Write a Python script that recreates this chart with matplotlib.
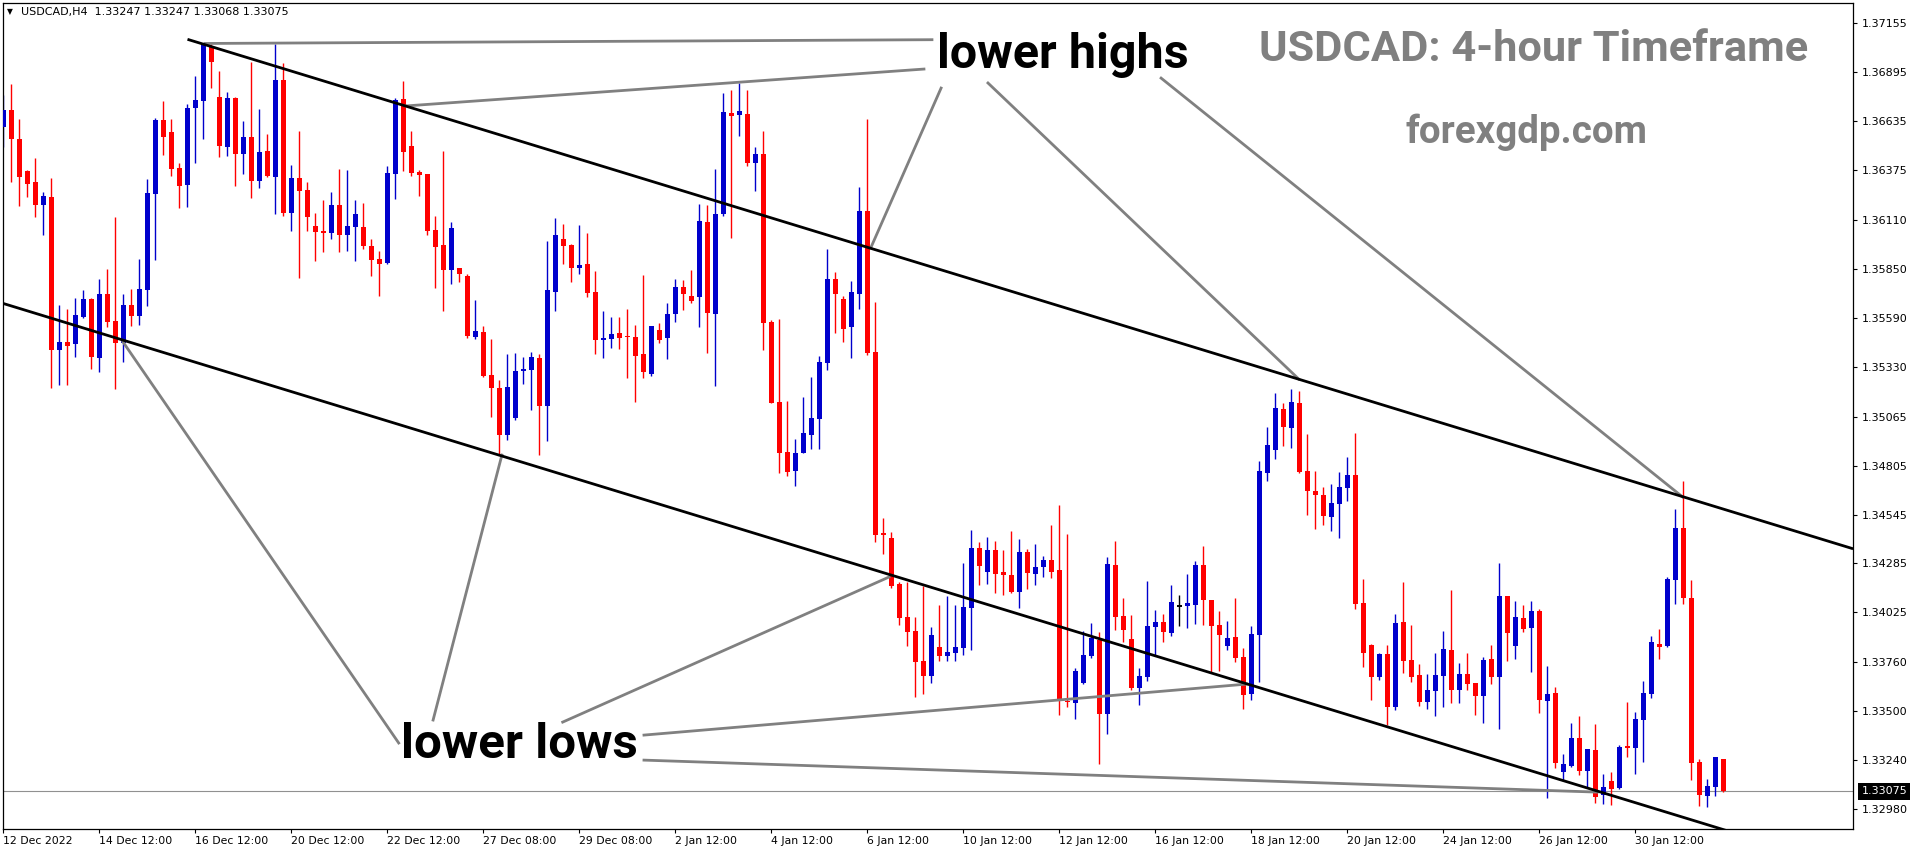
import matplotlib
matplotlib.use('Agg')
import matplotlib.pyplot as plt
import matplotlib.transforms as mtransforms

# USDCAD H4 candles, 12 Dec 2022 .. 31 Jan 2023
opens = [1.36606, 1.36695, 1.36540, 1.36370, 1.36310, 1.36191, 1.36232, 1.35421, 1.35462, 1.35453,
         1.35594, 1.35690, 1.35378, 1.35717, 1.35573, 1.35458, 1.35658, 1.35602, 1.35739, 1.36250,
         1.36641, 1.36578, 1.36386, 1.36298, 1.36705, 1.36744, 1.37035, 1.36762, 1.36499, 1.36760,
         1.36462, 1.36551, 1.36319, 1.36477, 1.36340, 1.36854, 1.36149, 1.36333, 1.36269, 1.36078,
         1.36051, 1.36042, 1.36190, 1.36032, 1.36074, 1.36073, 1.35972, 1.35903, 1.35883, 1.36354,
         1.36753, 1.36503, 1.36365, 1.36354, 1.36057, 1.35977, 1.35846, 1.35855, 1.35812, 1.35488,
         1.35515, 1.35286, 1.35217, 1.34967, 1.35060, 1.35311, 1.35314, 1.35377, 1.35123, 1.35729,
         1.36009, 1.35977, 1.35857, 1.35876, 1.35727, 1.35474, 1.35479, 1.35509, 1.35493, 1.35488,
         1.35398, 1.35292, 1.35526, 1.35484, 1.35612, 1.35754, 1.35706, 1.35702, 1.36099, 1.35612,
         1.36142, 1.36679, 1.36670, 1.36673, 1.36414, 1.36461, 1.35569, 1.35143, 1.34877, 1.34778,
         1.34873, 1.34969, 1.35054, 1.35352, 1.35796, 1.35690, 1.35543, 1.35718, 1.36158, 1.35409,
         1.34441, 1.34420, 1.34177, 1.34000, 1.33926, 1.33766, 1.33688, 1.33841, 1.33795, 1.33811,
         1.33837, 1.34049, 1.34367, 1.34241, 1.34356, 1.34240, 1.34224, 1.34135, 1.34346, 1.34231,
         1.34268, 1.34303, 1.34249, 1.33556, 1.33545, 1.33651, 1.33795, 1.33878, 1.33486, 1.34277,
         1.34006, 1.33884, 1.33625, 1.33683, 1.33949, 1.33974, 1.33916, 1.34059, 1.34061, 1.34066,
         1.34277, 1.34092, 1.33958, 1.33848, 1.33894, 1.33790, 1.33593, 1.33906, 1.34767, 1.34889,
         1.35106, 1.35006, 1.35138, 1.34776, 1.34670, 1.34649, 1.34533, 1.34602, 1.34687, 1.34755,
         1.34075, 1.33850, 1.33683, 1.33804, 1.33524, 1.33974, 1.33772, 1.33694, 1.33551, 1.33609,
         1.33688, 1.33825, 1.33614, 1.33699, 1.33650, 1.33582, 1.33779, 1.33683, 1.34112, 1.33848,
         1.33995, 1.33943, 1.34032, 1.33556, 1.33597, 1.33178, 1.33210, 1.33359, 1.33184, 1.33295,
         1.33056, 1.33129, 1.33093, 1.33316, 1.33306, 1.33455, 1.33593, 1.33858, 1.33848, 1.34199,
         1.34472, 1.34103, 1.33231, 1.33051, 1.33098, 1.33247]
highs = [1.36774, 1.36833, 1.36647, 1.36376, 1.36439, 1.36257, 1.36333, 1.35658, 1.35637, 1.35694,
         1.35738, 1.35697, 1.35796, 1.35851, 1.36126, 1.35717, 1.35743, 1.35904, 1.36328, 1.36652,
         1.36742, 1.36647, 1.36411, 1.36726, 1.36875, 1.37047, 1.37043, 1.36902, 1.36790, 1.36763,
         1.36636, 1.36949, 1.36700, 1.36567, 1.37043, 1.36944, 1.36402, 1.36583, 1.36312, 1.36149,
         1.36216, 1.36259, 1.36381, 1.36376, 1.36216, 1.36200, 1.36009, 1.35946, 1.36397, 1.36760,
         1.36849, 1.36583, 1.36376, 1.36354, 1.36133, 1.36477, 1.36099, 1.35855, 1.35823, 1.35685,
         1.35547, 1.35478, 1.35258, 1.35398, 1.35403, 1.35384, 1.35409, 1.35398, 1.35998, 1.36120,
         1.36089, 1.35982, 1.36083, 1.36041, 1.35839, 1.35628, 1.35596, 1.35596, 1.35639, 1.35552,
         1.35818, 1.35547, 1.35563, 1.35669, 1.35796, 1.35791, 1.35844, 1.36195, 1.36190, 1.36381,
         1.36785, 1.36801, 1.36836, 1.36801, 1.36498, 1.36583, 1.35578, 1.35585, 1.35148, 1.34946,
         1.35169, 1.35276, 1.35387, 1.35956, 1.35834, 1.35706, 1.35786, 1.36285, 1.36647, 1.35674,
         1.34526, 1.34452, 1.34186, 1.34186, 1.34000, 1.34165, 1.33947, 1.34064, 1.34112, 1.34064,
         1.34287, 1.34463, 1.34399, 1.34426, 1.34404, 1.34356, 1.34457, 1.34415, 1.34362, 1.34388,
         1.34324, 1.34489, 1.34595, 1.34441, 1.33731, 1.33926, 1.33968, 1.33921, 1.34319, 1.34404,
         1.34101, 1.34011, 1.33727, 1.34192, 1.34037, 1.34016, 1.34170, 1.34117, 1.34229, 1.34298,
         1.34378, 1.34092, 1.34034, 1.33981, 1.34101, 1.33837, 1.33952, 1.34829, 1.35010, 1.35191,
         1.35138, 1.35212, 1.35201, 1.34973, 1.34776, 1.34691, 1.34707, 1.34771, 1.34850, 1.34978,
         1.34203, 1.33857, 1.33809, 1.33852, 1.34016, 1.34186, 1.33958, 1.33751, 1.33699, 1.33809,
         1.33926, 1.34144, 1.33756, 1.33809, 1.33650, 1.33790, 1.33852, 1.34289, 1.34112, 1.34087,
         1.34064, 1.34085, 1.34043, 1.33740, 1.33628, 1.33274, 1.33439, 1.33476, 1.33300, 1.33434,
         1.33168, 1.33178, 1.33322, 1.33551, 1.33497, 1.33662, 1.33899, 1.33937, 1.34213, 1.34576,
         1.34723, 1.34197, 1.33248, 1.33141, 1.33258, 1.33247]
lows = [1.36499, 1.36313, 1.36186, 1.36234, 1.36127, 1.36032, 1.35219, 1.35235, 1.35235, 1.35384,
        1.35588, 1.35320, 1.35304, 1.35543, 1.35212, 1.35357, 1.35548, 1.35554, 1.35654, 1.35899,
        1.36455, 1.36346, 1.36175, 1.36181, 1.36413, 1.36542, 1.36813, 1.36446, 1.36452, 1.36292,
        1.36354, 1.36228, 1.36282, 1.36340, 1.36143, 1.36133, 1.36053, 1.35800, 1.36050, 1.35894,
        1.35941, 1.36009, 1.35941, 1.35947, 1.35894, 1.35956, 1.35814, 1.35708, 1.35878, 1.36223,
        1.36372, 1.36346, 1.36239, 1.36032, 1.35750, 1.35628, 1.35771, 1.35782, 1.35484, 1.35478,
        1.35277, 1.35065, 1.34861, 1.34939, 1.35049, 1.35240, 1.35102, 1.34861, 1.34935, 1.35628,
        1.35876, 1.35782, 1.35824, 1.35702, 1.35399, 1.35378, 1.35431, 1.35426, 1.35272, 1.35144,
        1.35272, 1.35283, 1.35458, 1.35373, 1.35569, 1.35634, 1.35671, 1.35543, 1.35405, 1.35229,
        1.36133, 1.36016, 1.36558, 1.36398, 1.36266, 1.35421, 1.35139, 1.34767, 1.34751, 1.34698,
        1.34873, 1.34895, 1.34895, 1.35314, 1.35511, 1.35463, 1.35378, 1.35639, 1.35394, 1.34399,
        1.34335, 1.34156, 1.33959, 1.33848, 1.33577, 1.33593, 1.33651, 1.33768, 1.33768, 1.33768,
        1.33800, 1.33826, 1.34172, 1.34177, 1.34129, 1.34119, 1.34129, 1.34049, 1.34151, 1.34172,
        1.34214, 1.34209, 1.33481, 1.33524, 1.33460, 1.33646, 1.33784, 1.33221, 1.33380, 1.33933,
        1.33869, 1.33614, 1.33534, 1.33662, 1.33795, 1.33869, 1.33901, 1.33952, 1.33944, 1.33965,
        1.33959, 1.33704, 1.33715, 1.33826, 1.33763, 1.33513, 1.33561, 1.33657, 1.34725, 1.34842,
        1.34911, 1.34900, 1.34767, 1.34544, 1.34469, 1.34491, 1.34458, 1.34422, 1.34618, 1.34041,
        1.33736, 1.33561, 1.33667, 1.33428, 1.33508, 1.33704, 1.33657, 1.33529, 1.33513, 1.33476,
        1.33524, 1.33545, 1.33545, 1.33614, 1.33481, 1.33439, 1.33646, 1.33407, 1.33768, 1.33779,
        1.33922, 1.33710, 1.33492, 1.33040, 1.33199, 1.33131, 1.33205, 1.33163, 1.33098, 1.33013,
        1.33008, 1.33003, 1.33088, 1.33258, 1.33168, 1.33231, 1.33572, 1.33779, 1.33842, 1.34071,
        1.34071, 1.33136, 1.32997, 1.32992, 1.33051, 1.33068]
closes = [1.36694, 1.36539, 1.36340, 1.36303, 1.36191, 1.36237, 1.35421, 1.35462, 1.35442, 1.35605,
          1.35690, 1.35384, 1.35717, 1.35569, 1.35458, 1.35658, 1.35602, 1.35743, 1.36253, 1.36641,
          1.36553, 1.36383, 1.36292, 1.36705, 1.36748, 1.37047, 1.36951, 1.36505, 1.36757, 1.36462,
          1.36551, 1.36319, 1.36471, 1.36346, 1.36854, 1.36149, 1.36333, 1.36266, 1.36127, 1.36046,
          1.36042, 1.36190, 1.36032, 1.36078, 1.36142, 1.35974, 1.35899, 1.35878, 1.36360, 1.36748,
          1.36473, 1.36361, 1.36351, 1.36053, 1.35969, 1.35846, 1.36067, 1.35824, 1.35493, 1.35520,
          1.35283, 1.35219, 1.34967, 1.35223, 1.35307, 1.35313, 1.35382, 1.35123, 1.35738, 1.36030,
          1.35972, 1.35857, 1.35871, 1.35724, 1.35474, 1.35484, 1.35504, 1.35484, 1.35486, 1.35389,
          1.35304, 1.35547, 1.35474, 1.35610, 1.35754, 1.35718, 1.35681, 1.36105, 1.35617, 1.36142,
          1.36684, 1.36664, 1.36689, 1.36414, 1.36461, 1.35564, 1.35139, 1.34873, 1.34772, 1.34872,
          1.34978, 1.35058, 1.35356, 1.35796, 1.35718, 1.35532, 1.35727, 1.36158, 1.35405, 1.34436,
          1.34439, 1.34167, 1.33996, 1.33922, 1.33763, 1.33688, 1.33905, 1.33795, 1.33814, 1.33841,
          1.34053, 1.34367, 1.34273, 1.34356, 1.34231, 1.34225, 1.34135, 1.34346, 1.34236, 1.34266,
          1.34303, 1.34241, 1.33566, 1.33551, 1.33715, 1.33799, 1.33889, 1.33486, 1.34282, 1.34002,
          1.33933, 1.33625, 1.33687, 1.33952, 1.33974, 1.33922, 1.34080, 1.34059, 1.34075, 1.34277,
          1.34092, 1.33954, 1.33905, 1.33891, 1.33784, 1.33587, 1.33911, 1.34776, 1.34914, 1.35111,
          1.35012, 1.35143, 1.34772, 1.34671, 1.34650, 1.34539, 1.34606, 1.34691, 1.34755, 1.34071,
          1.33811, 1.33683, 1.33804, 1.33524, 1.33968, 1.33768, 1.33683, 1.33551, 1.33612, 1.33694,
          1.33830, 1.33614, 1.33699, 1.33646, 1.33582, 1.33774, 1.33683, 1.34112, 1.33917, 1.34000,
          1.33938, 1.34032, 1.33561, 1.33591, 1.33226, 1.33221, 1.33359, 1.33184, 1.33300, 1.33045,
          1.33097, 1.33088, 1.33311, 1.33306, 1.33460, 1.33598, 1.33867, 1.33842, 1.34203, 1.34472,
          1.34103, 1.33226, 1.33056, 1.33104, 1.33258, 1.33075]

date_labels = ['12 Dec 2022', '14 Dec 12:00', '16 Dec 12:00', '20 Dec 12:00', '22 Dec 12:00',
               '27 Dec 08:00', '29 Dec 08:00', '2 Jan 12:00', '4 Jan 12:00', '6 Jan 12:00',
               '10 Jan 12:00', '12 Jan 12:00', '16 Jan 12:00', '18 Jan 12:00', '20 Jan 12:00',
               '24 Jan 12:00', '26 Jan 12:00', '30 Jan 12:00']
price_ticks = [1.37155, 1.36895, 1.36635, 1.36375, 1.36110, 1.35850, 1.35590, 1.35330, 1.35065,
               1.34805, 1.34545, 1.34285, 1.34025, 1.33760, 1.33500, 1.33240, 1.32980]
last_price = 1.33075

# channel trend lines: (bar index, price)
upper_channel = [(23, 1.37070), (231.2, 1.34363)]
lower_channel = [(0, 1.35666), (231.2, 1.32660)]

# pointer lines of the two labels: (bar, price) -> (bar, price)
high_pointers = [((25.2, 1.37048), (116.06, 1.37068)),
                 ((50.3, 1.36716), (115.06, 1.36912)),
                 ((108.4, 1.35961), (117.2, 1.36811)),
                 ((123.06, 1.36838), (161.9, 1.35265)),
                 ((144.7, 1.36864), (209.9, 1.34638))]
low_pointers = [((14.94, 1.35462), (49.4, 1.33331)),
                ((53.7, 1.33453), (62.3, 1.34861)),
                ((69.9, 1.33442), (110.7, 1.34213)),
                ((80.06, 1.33373), (155.4, 1.33644)),
                ((80.06, 1.33240), (199.2, 1.33070))]

W, H = 1916, 850
fig = plt.figure(figsize=(W / 100, H / 100), dpi=100)
ax = fig.add_axes([2.5 / W, 21 / H, 1850.5 / W, 826 / H])

bull, bear, doji = '#0000cc', '#ff0000', '#000000'
xs = list(range(len(opens)))
cols = [bull if c > o else bear if c < o else doji for o, c in zip(opens, closes)]

ax.vlines(xs, lows, highs, colors=cols, lw=1.0, zorder=2)
for x, o, c, col in zip(xs, opens, closes, cols):
    if abs(c - o) < 0.00004:
        ax.hlines(o, x - 0.3, x + 0.3, colors=col, lw=1.4, zorder=3)
    else:
        ax.bar(x, abs(c - o), bottom=min(o, c), width=0.62, color=col, lw=0, zorder=3)

ax.axhline(last_price, color='#909090', lw=0.8, zorder=1)

for line in (upper_channel, lower_channel):
    ax.plot([p[0] for p in line], [p[1] for p in line], color='black', lw=2.0,
            solid_capstyle='butt', zorder=5)
for a, b in high_pointers + low_pointers:
    ax.plot([a[0], b[0]], [a[1], b[1]], color='#808080', lw=2.0, zorder=4)

ax.set_xlim(-0.125, 231.19)
ax.set_ylim(1.32874, 1.37263)

ax.set_xticks(range(0, 12 * len(date_labels), 12))
ax.set_xticklabels(date_labels, ha='left', fontsize=7.8)
ax.yaxis.tick_right()
ax.set_yticks(price_ticks)
ax.set_yticklabels(['%.5f' % p for p in price_ticks], fontsize=8)
ax.tick_params(axis='x', length=3, pad=2, width=0.8)
ax.tick_params(axis='y', length=3, pad=3, width=0.8)
for s in ax.spines.values():
    s.set_linewidth(0.9)

# current price tag
trans = mtransforms.blended_transform_factory(ax.transAxes, ax.transData)
ax.annotate('%.5f' % last_price, xy=(1, last_price), xycoords=trans, xytext=(6, 0),
            textcoords='offset points', va='center', ha='left', fontsize=8, color='white',
            bbox=dict(boxstyle='square,pad=0.3', fc='black', ec='none'), annotation_clip=False)

def px(x, y):
    return x / W, 1 - y / H

fig.text(*px(7, 11.5), '\u25bc', fontsize=5.5, va='center', ha='left')
fig.text(*px(21, 11.5), 'USDCAD,H4  1.33247 1.33247 1.33068 1.33075', fontsize=8, va='center')

big = dict(family='Roboto', weight='bold')
fig.text(*px(937, 68), 'lower highs', fontsize=34.9, color='black', va='baseline', **big)
fig.text(*px(401, 758), 'lower lows', fontsize=35.6, color='black', va='baseline', **big)
fig.text(*px(1259, 61), 'USDCAD: 4-hour Timeframe', fontsize=31.2, color='#808080',
         va='baseline', **big)
fig.text(*px(1406, 143), 'forexgdp.com', fontsize=27.7, color='#808080', va='baseline', **big)

fig.savefig('out.png', dpi=100)
